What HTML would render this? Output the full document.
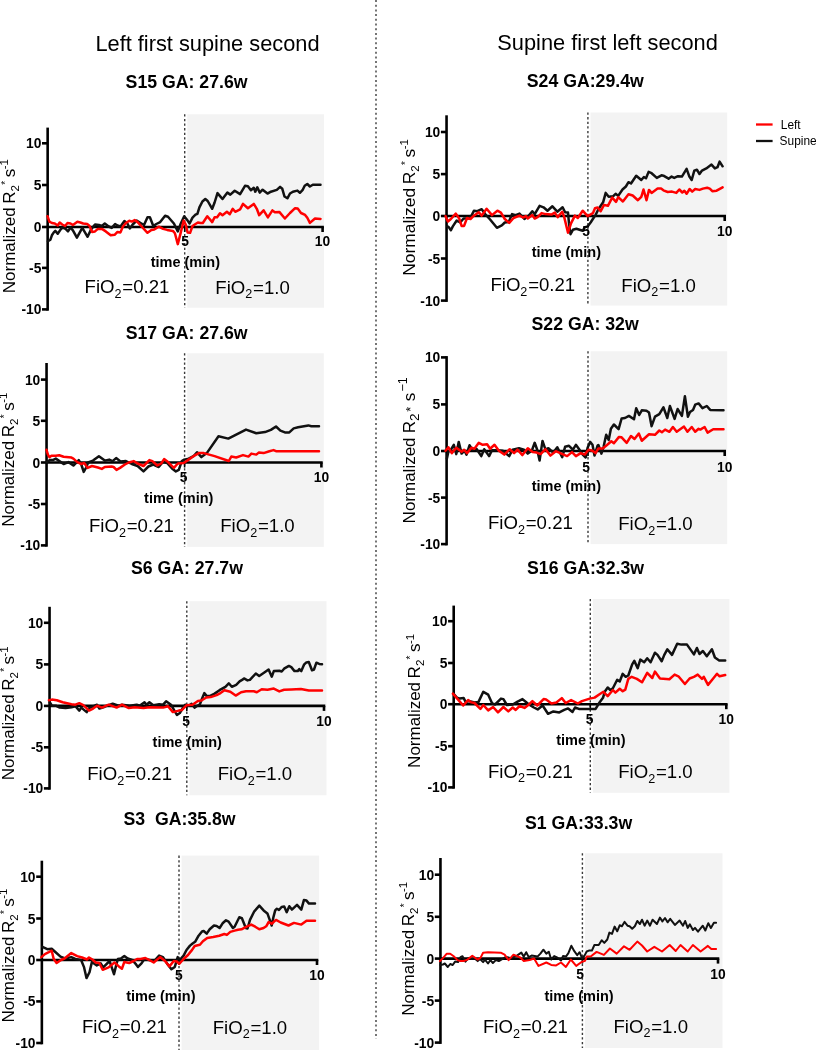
<!DOCTYPE html>
<html><head><meta charset="utf-8"><style>
html,body{margin:0;padding:0;background:#fff;}
body{width:816px;height:1050px;overflow:hidden;}
svg{display:block;font-family:"Liberation Sans", sans-serif;filter:blur(0.3px);}
</style></head><body>
<svg width="816" height="1050" viewBox="0 0 816 1050" fill="#000">
<line x1="376" y1="0" x2="376" y2="1039" stroke="#666" stroke-width="1.8" stroke-dasharray="2 2.7"/>
<text x="95.4" y="50.9" font-size="21.8">Left first supine second</text>
<text x="497.3" y="50.3" font-size="21.8">Supine first left second</text>
<rect x="187.29999999999998" y="114.3" width="136.7" height="193.4" fill="#f3f3f3"/>
<line x1="184.7" y1="114.3" x2="184.7" y2="307.7" stroke="#3a3a3a" stroke-width="1.4" stroke-dasharray="2.3 2.3"/>
<line x1="47.65" y1="127.6" x2="47.65" y2="310.7" stroke="#000" stroke-width="2.6"/>
<line x1="42.0" y1="143.3" x2="47.65" y2="143.3" stroke="#000" stroke-width="2.6"/>
<line x1="42.0" y1="185" x2="47.65" y2="185" stroke="#000" stroke-width="2.6"/>
<line x1="42.0" y1="227" x2="47.65" y2="227" stroke="#000" stroke-width="2.6"/>
<line x1="42.0" y1="267.9" x2="47.65" y2="267.9" stroke="#000" stroke-width="2.6"/>
<line x1="42.0" y1="309.4" x2="47.65" y2="309.4" stroke="#000" stroke-width="2.6"/>
<line x1="47.65" y1="227" x2="323.9" y2="227" stroke="#000" stroke-width="2.6"/>
<line x1="322.6" y1="227" x2="322.6" y2="232" stroke="#000" stroke-width="2.6"/>
<line x1="184.7" y1="227" x2="184.7" y2="232" stroke="#000" stroke-width="1.6"/>
<polyline points="47.9,241.2 50.4,239.7 51.9,235.3 53.8,232.4 55.3,230.9 57.7,233.8 60.7,229.4 62.6,227.5 65.6,228.9 68.0,231.4 70.5,227.5 72.9,230.4 76.9,237.7 82.3,227.9 87.6,236.8 91.1,229.4 95.0,224.5 98.9,225.0 101.9,226.0 104.8,223.5 108.7,226.5 111.7,227.9 115.1,224.0 117.5,225.5 120.5,226.5 124.4,221.1 127.4,223.5 129.8,228.4 132.7,224.5 136.7,220.6 140.6,223.0 144.0,225.0 147.5,217.2 149.9,217.2 153.3,226.0 156.3,224.0 160.2,222.1 165.1,215.7 168.0,216.7 173.9,223.5 177.8,231.4 180.8,223.5 184.2,216.2 187.6,220.6 189.6,223.5 192.5,217.6 195.5,214.7 197.4,213.8 199.4,207.4 202.4,201.5 205.3,199.0 207.7,201.0 212.2,208.8 214.6,202.5 217.5,193.1 220.0,196.1 222.5,199.0 227.4,192.6 230.3,194.6 234.7,190.7 240.1,194.1 245.0,185.8 247.9,186.3 250.9,190.2 253.8,187.7 255.3,191.7 257.3,187.3 259.7,192.6 262.6,189.7 267.5,193.6 270.9,191.7 276.8,189.9 280.1,186.9 282.3,188.8 284.5,196.5 287.4,198.3 290.0,193.5 292.9,191.7 297.4,190.6 299.9,192.8 302.5,190.2 304.7,185.8 307.3,184.0 309.9,186.5 312.8,184.7 320.5,184.7" fill="none" stroke="#111" stroke-width="2.5" stroke-linejoin="round" stroke-linecap="round"/>
<polyline points="47.5,216.2 49.4,221.6 51.9,223.0 54.8,223.5 57.7,225.5 59.7,222.5 62.2,224.5 65.1,226.0 67.5,223.0 70.5,223.5 72.9,225.0 77.4,221.8 80.3,222.5 83.2,223.5 87.2,224.0 89.6,226.0 92.1,231.9 95.0,231.4 97.9,228.9 101.9,228.9 105.8,231.4 110.7,235.3 114.6,234.8 117.5,231.9 120.5,232.4 122.9,226.5 125.9,223.0 129.3,220.8 131.8,221.6 134.7,220.1 137.6,222.1 141.6,226.5 147.5,232.8 151.4,229.9 154.3,229.4 158.7,226.7 163.1,228.9 167.1,229.9 172.9,230.9 174.9,233.3 177.8,244.1 180.8,232.4 183.7,220.6 185.7,224.5 187.6,232.4 190.1,232.8 192.5,226.0 195.5,224.0 197.9,222.5 200.4,223.0 202.8,223.0 207.3,216.2 212.2,222.1 214.6,217.2 217.1,217.2 220.0,213.2 222.5,215.2 226.9,211.8 229.8,214.2 232.7,208.8 235.2,211.8 240.1,209.3 243.0,203.9 247.9,208.3 253.8,203.9 256.8,208.8 259.2,215.2 263.6,210.3 267.9,217.4 272.4,210.4 274.9,212.3 279.3,211.9 284.9,218.5 290.0,213.0 295.1,208.2 297.7,208.6 301.0,213.0 305.1,214.9 307.3,217.8 309.9,222.9 315.0,218.5 320.5,218.9" fill="none" stroke="#ff0000" stroke-width="2.5" stroke-linejoin="round" stroke-linecap="round"/>
<text x="41.35" y="148.3" text-anchor="end" font-weight="bold" font-size="13.8">10</text>
<text x="41.35" y="190.0" text-anchor="end" font-weight="bold" font-size="13.8">5</text>
<text x="41.35" y="232.0" text-anchor="end" font-weight="bold" font-size="13.8">0</text>
<text x="41.35" y="272.9" text-anchor="end" font-weight="bold" font-size="13.8">-5</text>
<text x="41.35" y="314.4" text-anchor="end" font-weight="bold" font-size="13.8">-10</text>
<text x="185.1" y="246.2" text-anchor="middle" font-weight="bold" font-size="13.8">5</text>
<text x="322.4" y="246.2" text-anchor="middle" font-weight="bold" font-size="13.8">10</text>
<text x="150.7" y="266.6" font-weight="bold" font-size="14.5">time (min)</text>
<text x="84.6" y="293.3" font-size="18.6">FiO<tspan font-size="12.6" dy="4.8">2</tspan><tspan dx="0.8" dy="-4.8">=0.21</tspan></text>
<text x="215.3" y="293.5" font-size="18.6">FiO<tspan font-size="12.6" dy="4.8">2</tspan><tspan dx="0.8" dy="-4.8">=1.0</tspan></text>
<text x="125.6" y="87.6" font-weight="bold" font-size="17.7" xml:space="preserve">S15 GA: 27.6w</text>
<text transform="translate(14.6,293.2) rotate(-90)" font-size="17.0" xml:space="preserve">Normalized<tspan dx="-1.2"> R</tspan><tspan font-size="11.5" dy="4">2</tspan><tspan font-size="10" dy="-10" dx="0.3">*</tspan><tspan dy="6" dx="-1.2"> s</tspan><tspan font-size="11.5" dy="-6.5" dx="-0.6">-1</tspan></text>
<rect x="187.2" y="353.3" width="136.6" height="193.6" fill="#f3f3f3"/>
<line x1="184.6" y1="353.3" x2="184.6" y2="546.9" stroke="#3a3a3a" stroke-width="1.4" stroke-dasharray="2.3 2.3"/>
<line x1="46.55" y1="363" x2="46.55" y2="546.7" stroke="#000" stroke-width="2.6"/>
<line x1="40.9" y1="379.6" x2="46.55" y2="379.6" stroke="#000" stroke-width="2.6"/>
<line x1="40.9" y1="420.8" x2="46.55" y2="420.8" stroke="#000" stroke-width="2.6"/>
<line x1="40.9" y1="462.5" x2="46.55" y2="462.5" stroke="#000" stroke-width="2.6"/>
<line x1="40.9" y1="504" x2="46.55" y2="504" stroke="#000" stroke-width="2.6"/>
<line x1="40.9" y1="545.4" x2="46.55" y2="545.4" stroke="#000" stroke-width="2.6"/>
<line x1="46.55" y1="462.5" x2="322.7" y2="462.5" stroke="#000" stroke-width="2.6"/>
<line x1="321.4" y1="462.5" x2="321.4" y2="467.5" stroke="#000" stroke-width="2.6"/>
<line x1="184.6" y1="462.5" x2="184.6" y2="467.5" stroke="#000" stroke-width="1.6"/>
<polyline points="46.5,462.1 49.9,460.1 52.8,460.1 55.8,458.6 58.7,460.6 63.6,464.0 68.5,462.1 73.4,465.5 78.8,460.1 81.3,464.5 83.7,471.9 86.2,467.5 88.1,462.5 93.0,460.6 98.9,456.2 104.8,460.6 109.2,459.6 112.6,461.1 116.1,458.1 120.5,461.6 125.9,461.1 131.8,464.0 137.6,466.0 143.5,471.4 148.4,466.5 153.3,464.5 158.7,467.0 163.1,461.6 167.1,463.0 172.0,468.4 175.9,471.4 178.8,469.9 181.8,461.1 184.2,459.6 188.6,458.6 193.5,456.2 197.0,452.2 201.4,457.1 206.8,453.1 218.5,436.3 228.3,438.6 246.0,429.6 256.3,433.3 265.0,432.1 270.9,429.9 276.0,426.5 280.4,430.6 284.9,432.4 289.3,432.4 293.7,428.4 298.1,427.3 308.4,425.4 311.3,426.2 319.0,426.2" fill="none" stroke="#111" stroke-width="2.5" stroke-linejoin="round" stroke-linecap="round"/>
<polyline points="46.5,449.8 47.9,454.7 49.4,457.2 51.4,455.7 55.8,455.7 59.2,455.2 63.6,456.7 71.5,457.6 73.4,458.6 77.3,462.1 81.3,464.0 84.2,463.0 87.6,467.9 92.0,466.0 97.9,467.5 101.8,468.9 104.8,467.0 111.6,466.5 113.6,467.0 116.5,469.9 120.0,467.9 124.9,464.5 128.8,462.5 133.7,461.1 137.6,463.5 143.5,466.0 149.4,460.1 152.4,461.1 157.3,465.5 161.2,463.5 164.1,459.1 168.0,462.1 173.9,467.9 177.8,463.5 183.7,463.0 188.6,459.6 193.5,456.2 198.9,453.1 203.8,453.1 214.6,456.1 228.8,461.0 231.3,456.6 236.2,457.5 243.0,455.1 248.4,456.6 251.4,453.6 256.3,454.6 258.7,452.6 263.6,453.1 269.4,451.2 273.5,450.1 276.0,451.2 319.0,451.2" fill="none" stroke="#ff0000" stroke-width="2.5" stroke-linejoin="round" stroke-linecap="round"/>
<text x="40.25" y="384.6" text-anchor="end" font-weight="bold" font-size="13.8">10</text>
<text x="40.25" y="425.8" text-anchor="end" font-weight="bold" font-size="13.8">5</text>
<text x="40.25" y="467.5" text-anchor="end" font-weight="bold" font-size="13.8">0</text>
<text x="40.25" y="509.0" text-anchor="end" font-weight="bold" font-size="13.8">-5</text>
<text x="40.25" y="550.4" text-anchor="end" font-weight="bold" font-size="13.8">-10</text>
<text x="183.6" y="482.3" text-anchor="middle" font-weight="bold" font-size="13.8">5</text>
<text x="321.4" y="482.3" text-anchor="middle" font-weight="bold" font-size="13.8">10</text>
<text x="144.1" y="502.8" font-weight="bold" font-size="14.5">time (min)</text>
<text x="89.0" y="532.2" font-size="18.6">FiO<tspan font-size="12.6" dy="4.8">2</tspan><tspan dx="0.8" dy="-4.8">=0.21</tspan></text>
<text x="220.2" y="532.2" font-size="18.6">FiO<tspan font-size="12.6" dy="4.8">2</tspan><tspan dx="0.8" dy="-4.8">=1.0</tspan></text>
<text x="125.7" y="339.4" font-weight="bold" font-size="17.7" xml:space="preserve">S17 GA: 27.6w</text>
<text transform="translate(13.6,526.7) rotate(-90)" font-size="17.0" xml:space="preserve">Normalized<tspan dx="-1.2"> R</tspan><tspan font-size="11.5" dy="4">2</tspan><tspan font-size="10" dy="-10" dx="0.3">*</tspan><tspan dy="6" dx="-1.2"> s</tspan><tspan font-size="11.5" dy="-6.5" dx="-0.6">-1</tspan></text>
<rect x="189.4" y="601.2" width="137.1" height="194.1" fill="#f3f3f3"/>
<line x1="186.8" y1="601.2" x2="186.8" y2="795.3" stroke="#3a3a3a" stroke-width="1.4" stroke-dasharray="2.3 2.3"/>
<line x1="49.55" y1="606.8" x2="49.55" y2="789.7" stroke="#000" stroke-width="2.6"/>
<line x1="43.9" y1="622.8" x2="49.55" y2="622.8" stroke="#000" stroke-width="2.6"/>
<line x1="43.9" y1="664.4" x2="49.55" y2="664.4" stroke="#000" stroke-width="2.6"/>
<line x1="43.9" y1="705.9" x2="49.55" y2="705.9" stroke="#000" stroke-width="2.6"/>
<line x1="43.9" y1="747.3" x2="49.55" y2="747.3" stroke="#000" stroke-width="2.6"/>
<line x1="43.9" y1="788.4" x2="49.55" y2="788.4" stroke="#000" stroke-width="2.6"/>
<line x1="49.55" y1="705.9" x2="325.3" y2="705.9" stroke="#000" stroke-width="2.6"/>
<line x1="324" y1="705.9" x2="324" y2="710.9" stroke="#000" stroke-width="2.6"/>
<line x1="186.8" y1="705.9" x2="186.8" y2="710.9" stroke="#000" stroke-width="1.6"/>
<polyline points="49.9,702.3 51.9,705.7 55.8,705.7 59.7,707.6 65.6,708.1 71.5,707.2 75.4,706.2 79.3,710.6 81.3,707.6 86.7,712.1 89.1,708.1 97.0,704.7 99.4,708.6 104.8,706.7 112.7,703.7 118.5,705.7 122.0,704.7 129.8,705.7 136.7,704.7 139.6,705.7 144.5,702.3 146.5,704.7 149.4,702.3 153.3,705.2 159.2,704.2 163.1,704.7 166.1,701.3 171.0,704.7 176.9,715.0 179.8,713.0 182.7,708.1 185.2,704.7 188.6,705.7 191.6,703.7 194.5,707.6 197.0,706.0 199.9,704.4 201.9,699.0 204.3,693.1 206.8,696.1 209.7,696.1 214.6,693.6 219.5,690.2 225.4,686.8 228.8,683.3 231.8,686.8 236.2,684.8 239.6,681.4 242.1,679.9 244.0,678.4 247.5,680.4 249.9,679.9 255.8,673.5 259.2,676.0 263.6,673.0 268.6,669.5 271.8,676.7 273.8,671.1 279.3,670.7 281.7,671.5 284.1,668.7 288.9,665.9 291.3,667.1 294.5,671.1 297.7,671.1 299.3,669.1 301.3,671.1 304.0,664.7 306.4,662.4 308.8,662.0 312.0,670.3 314.0,669.5 316.4,662.7 319.2,663.9 322.0,664.3" fill="none" stroke="#111" stroke-width="2.5" stroke-linejoin="round" stroke-linecap="round"/>
<polyline points="48.9,700.3 51.9,699.6 56.8,700.3 62.7,702.3 71.5,704.2 75.4,704.7 79.3,703.2 83.3,705.2 89.1,710.6 93.1,708.6 97.0,705.7 101.9,707.6 108.7,704.7 116.6,707.6 122.0,704.7 128.8,708.1 134.7,707.2 143.5,708.1 149.4,707.2 163.1,707.6 168.0,706.2 172.9,712.1 178.8,710.6 181.8,710.1 186.7,705.2 192.5,704.7 197.9,701.0 201.4,700.5 206.3,697.5 210.7,697.1 216.6,695.1 220.5,693.1 224.4,690.2 230.3,691.7 235.7,695.6 241.1,692.2 246.0,691.2 253.8,691.2 256.8,692.2 261.7,689.2 267.5,689.7 273.8,688.6 279.3,691.4 284.1,689.8 291.3,689.4 300.9,689.0 308.8,690.6 322.0,690.6" fill="none" stroke="#ff0000" stroke-width="2.5" stroke-linejoin="round" stroke-linecap="round"/>
<text x="43.25" y="627.8" text-anchor="end" font-weight="bold" font-size="13.8">10</text>
<text x="43.25" y="669.4" text-anchor="end" font-weight="bold" font-size="13.8">5</text>
<text x="43.25" y="710.9" text-anchor="end" font-weight="bold" font-size="13.8">0</text>
<text x="43.25" y="752.3" text-anchor="end" font-weight="bold" font-size="13.8">-5</text>
<text x="43.25" y="793.4" text-anchor="end" font-weight="bold" font-size="13.8">-10</text>
<text x="186.2" y="725.5" text-anchor="middle" font-weight="bold" font-size="13.8">5</text>
<text x="324" y="725.5" text-anchor="middle" font-weight="bold" font-size="13.8">10</text>
<text x="152.6" y="746.8" font-weight="bold" font-size="14.5">time (min)</text>
<text x="87.2" y="780.4" font-size="18.6">FiO<tspan font-size="12.6" dy="4.8">2</tspan><tspan dx="0.8" dy="-4.8">=0.21</tspan></text>
<text x="217.7" y="780" font-size="18.6">FiO<tspan font-size="12.6" dy="4.8">2</tspan><tspan dx="0.8" dy="-4.8">=1.0</tspan></text>
<text x="130.9" y="574.4" font-weight="bold" font-size="17.7" xml:space="preserve">S6 GA: 27.7w</text>
<text transform="translate(14.1,780.3) rotate(-90)" font-size="17.0" xml:space="preserve">Normalized<tspan dx="-1.2"> R</tspan><tspan font-size="11.5" dy="4">2</tspan><tspan font-size="10" dy="-10" dx="0.3">*</tspan><tspan dy="6" dx="-1.2"> s</tspan><tspan font-size="11.5" dy="-6.5" dx="-0.6">-1</tspan></text>
<rect x="181.6" y="855.6" width="137.5" height="194.4" fill="#f3f3f3"/>
<line x1="179" y1="855.6" x2="179" y2="1050" stroke="#3a3a3a" stroke-width="1.4" stroke-dasharray="2.3 2.3"/>
<line x1="41.85" y1="860.7" x2="41.85" y2="1044.3" stroke="#000" stroke-width="2.6"/>
<line x1="36.2" y1="876.7" x2="41.85" y2="876.7" stroke="#000" stroke-width="2.6"/>
<line x1="36.2" y1="918.5" x2="41.85" y2="918.5" stroke="#000" stroke-width="2.6"/>
<line x1="36.2" y1="960" x2="41.85" y2="960" stroke="#000" stroke-width="2.6"/>
<line x1="36.2" y1="1001.4" x2="41.85" y2="1001.4" stroke="#000" stroke-width="2.6"/>
<line x1="36.2" y1="1043" x2="41.85" y2="1043" stroke="#000" stroke-width="2.6"/>
<line x1="41.85" y1="960" x2="318.3" y2="960" stroke="#000" stroke-width="2.6"/>
<line x1="317" y1="960" x2="317" y2="965" stroke="#000" stroke-width="2.6"/>
<line x1="179" y1="960" x2="179" y2="965" stroke="#000" stroke-width="1.6"/>
<polyline points="42.4,946.8 47.3,949.2 51.7,948.7 55.6,952.2 60.5,956.6 65.0,958.5 71.3,957.1 75.3,959.0 81.1,960.0 84.1,967.4 86.5,978.1 89.5,972.3 91.9,962.0 96.8,965.4 100.7,963.4 103.2,967.4 109.6,961.0 114.0,974.2 116.4,964.4 117.9,959.0 120.9,958.5 124.3,956.1 127.7,958.5 132.2,960.0 136.1,964.4 138.0,966.9 141.5,963.4 144.4,959.0 154.2,961.0 159.1,955.6 163.0,957.1 167.0,963.4 171.4,969.3 174.8,966.9 177.7,957.1 179.7,960.0 183.6,955.6 186.5,950.0 190.0,945.6 192.6,943.5 195.1,941.8 198.6,935.7 202.0,931.5 203.7,931.0 206.7,933.6 209.7,929.3 214.0,925.5 216.6,925.9 219.6,928.0 222.6,923.3 226.0,920.3 228.6,921.6 232.9,928.0 234.6,926.7 239.3,917.3 241.9,918.2 245.8,928.0 247.5,928.5 250.0,919.9 254.3,911.3 259.3,905.7 263.6,910.4 267.4,913.4 270.0,920.7 271.7,925.5 273.4,917.3 275.2,910.4 276.9,908.7 279.0,910.0 281.6,907.0 284.2,906.6 286.7,912.2 289.3,906.2 291.9,909.6 297.0,904.9 301.3,909.6 303.9,900.1 306.5,900.6 309.0,903.6 315.0,903.6" fill="none" stroke="#111" stroke-width="2.5" stroke-linejoin="round" stroke-linecap="round"/>
<polyline points="41.4,957.1 44.9,954.1 48.8,952.2 51.7,950.7 53.7,959.0 56.6,963.0 61.0,960.0 64.5,958.5 71.3,953.1 77.2,956.1 82.1,957.5 87.0,959.5 89.0,957.5 92.4,959.5 95.8,962.5 99.3,963.0 102.7,969.8 108.6,967.4 114.5,962.5 118.9,966.4 121.9,968.8 124.3,962.0 129.2,963.0 133.6,961.0 137.1,959.0 140.5,959.0 145.4,958.0 149.3,960.0 153.7,962.5 160.1,957.1 165.0,961.0 169.4,966.4 173.8,961.0 176.8,961.5 179.2,963.9 183.6,959.0 188.0,955.0 192.1,949.9 194.7,946.0 197.7,945.2 199.9,944.8 202.9,941.3 207.2,937.9 213.2,937.0 219.2,935.7 224.3,934.0 226.9,934.9 230.3,931.9 234.6,930.6 238.0,929.7 241.5,929.3 246.6,926.7 251.3,924.6 255.2,926.7 259.3,929.3 263.6,928.0 266.2,926.3 268.7,922.0 271.7,923.7 276.0,919.9 280.7,922.5 288.5,925.5 294.0,922.9 301.3,924.6 306.5,920.7 315.0,920.7" fill="none" stroke="#ff0000" stroke-width="2.5" stroke-linejoin="round" stroke-linecap="round"/>
<text x="35.55" y="881.7" text-anchor="end" font-weight="bold" font-size="13.8">10</text>
<text x="35.55" y="923.5" text-anchor="end" font-weight="bold" font-size="13.8">5</text>
<text x="35.55" y="965.0" text-anchor="end" font-weight="bold" font-size="13.8">0</text>
<text x="35.55" y="1006.4" text-anchor="end" font-weight="bold" font-size="13.8">-5</text>
<text x="35.55" y="1048.0" text-anchor="end" font-weight="bold" font-size="13.8">-10</text>
<text x="178.8" y="979.5" text-anchor="middle" font-weight="bold" font-size="13.8">5</text>
<text x="317" y="979.5" text-anchor="middle" font-weight="bold" font-size="13.8">10</text>
<text x="126.2" y="1000.6" font-weight="bold" font-size="14.5">time (min)</text>
<text x="82.0" y="1032.7" font-size="18.6">FiO<tspan font-size="12.6" dy="4.8">2</tspan><tspan dx="0.8" dy="-4.8">=0.21</tspan></text>
<text x="212.7" y="1033.5" font-size="18.6">FiO<tspan font-size="12.6" dy="4.8">2</tspan><tspan dx="0.8" dy="-4.8">=1.0</tspan></text>
<text x="123.5" y="824.8" font-weight="bold" font-size="17.7" xml:space="preserve">S3  GA:35.8w</text>
<text transform="translate(13.6,1022.6) rotate(-90)" font-size="17.0" xml:space="preserve">Normalized<tspan dx="-1.2"> R</tspan><tspan font-size="11.5" dy="4">2</tspan><tspan font-size="10" dy="-10" dx="0.3">*</tspan><tspan dy="6" dx="-1.2"> s</tspan><tspan font-size="11.5" dy="-6.5" dx="-0.6">-1</tspan></text>
<rect x="590.5" y="112.5" width="136.7" height="193.1" fill="#f3f3f3"/>
<line x1="587.9" y1="112.5" x2="587.9" y2="305.6" stroke="#3a3a3a" stroke-width="1.4" stroke-dasharray="2.3 2.3"/>
<line x1="446.55" y1="115.3" x2="446.55" y2="301.9" stroke="#000" stroke-width="2.6"/>
<line x1="440.9" y1="132" x2="446.55" y2="132" stroke="#000" stroke-width="2.6"/>
<line x1="440.9" y1="174.1" x2="446.55" y2="174.1" stroke="#000" stroke-width="2.6"/>
<line x1="440.9" y1="216" x2="446.55" y2="216" stroke="#000" stroke-width="2.6"/>
<line x1="440.9" y1="258.5" x2="446.55" y2="258.5" stroke="#000" stroke-width="2.6"/>
<line x1="440.9" y1="300.6" x2="446.55" y2="300.6" stroke="#000" stroke-width="2.6"/>
<line x1="446.55" y1="216" x2="726.0" y2="216" stroke="#000" stroke-width="2.6"/>
<line x1="724.7" y1="216" x2="724.7" y2="221" stroke="#000" stroke-width="2.6"/>
<line x1="587.9" y1="216" x2="587.9" y2="221" stroke="#000" stroke-width="1.6"/>
<polyline points="447.4,226.4 448.9,227.4 450.9,230.3 452.8,226.4 456.7,220.5 460.2,222.5 463.6,218.5 468.0,218.5 471.5,215.6 473.9,210.7 477.3,211.2 481.7,209.2 485.2,214.1 490.1,219.5 496.9,227.8 501.8,225.4 504.8,222.5 508.7,222.0 512.1,214.1 515.6,215.1 519.5,213.6 524.4,219.0 528.8,215.6 532.3,211.2 534.7,214.1 539.6,205.8 543.5,207.3 547.5,210.7 552.4,206.3 557.3,211.7 562.6,207.3 565.1,212.2 568.0,212.6 569.0,223.4 570.5,234.2 572.9,229.8 576.4,228.8 582.7,230.8 584.7,227.4 587.6,226.4 590.6,222.5 593.5,218.0 595.5,215.1 598.4,209.2 603.1,202.3 605.7,192.9 608.7,196.8 613.0,196.3 615.6,193.8 618.2,195.9 622.5,189.5 625.9,186.5 628.5,182.2 631.0,183.5 636.2,175.7 641.3,180.0 643.9,177.0 646.0,178.3 648.6,171.9 651.6,173.2 656.8,177.9 661.5,175.3 663.4,175.7 668.6,178.7 671.6,176.6 674.2,177.9 678.0,176.2 681.9,176.6 686.6,168.9 689.2,176.2 691.7,180.0 694.3,170.6 696.9,169.7 699.5,174.0 702.0,170.6 706.3,168.4 711.5,164.6 714.9,168.4 717.5,167.2 719.6,161.6 722.6,166.3" fill="none" stroke="#111" stroke-width="2.5" stroke-linejoin="round" stroke-linecap="round"/>
<polyline points="445.5,216.1 447.9,221.5 450.9,219.0 455.8,213.6 459.2,218.5 461.6,225.9 464.1,225.9 467.0,218.0 470.5,219.0 473.4,216.1 478.8,212.2 481.7,215.6 486.6,208.7 492.0,215.1 497.4,210.7 500.9,212.6 504.8,219.0 509.2,222.9 513.6,218.0 519.5,215.6 522.9,217.5 525.9,216.1 527.8,218.5 532.3,215.1 534.7,218.5 537.6,217.1 541.6,213.1 545.5,214.1 551.4,214.6 554.8,212.6 557.7,217.1 562.2,211.7 564.1,216.6 568.0,232.7 571.0,223.4 574.9,215.6 577.8,218.0 582.7,210.7 587.6,216.1 593.0,213.1 595.0,208.3 597.6,207.5 600.6,211.3 604.0,204.9 607.9,205.8 612.2,197.6 616.0,201.9 618.2,197.2 622.9,201.5 628.5,194.2 632.7,195.5 637.9,200.2 641.3,196.8 643.5,189.5 646.5,200.2 649.0,189.9 651.6,192.9 657.6,188.6 661.1,188.6 663.4,190.3 667.7,192.0 672.0,191.6 676.3,192.9 679.3,189.5 682.3,192.5 684.4,190.7 686.6,193.8 689.6,189.0 692.2,191.6 695.2,189.0 699.5,189.9 702.9,188.6 707.2,187.7 709.8,188.6 712.3,191.2 716.6,190.7 722.6,187.3" fill="none" stroke="#ff0000" stroke-width="2.5" stroke-linejoin="round" stroke-linecap="round"/>
<text x="440.25" y="137.0" text-anchor="end" font-weight="bold" font-size="13.8">10</text>
<text x="440.25" y="179.1" text-anchor="end" font-weight="bold" font-size="13.8">5</text>
<text x="440.25" y="221.0" text-anchor="end" font-weight="bold" font-size="13.8">0</text>
<text x="440.25" y="263.5" text-anchor="end" font-weight="bold" font-size="13.8">-5</text>
<text x="440.25" y="305.6" text-anchor="end" font-weight="bold" font-size="13.8">-10</text>
<text x="586" y="236" text-anchor="middle" font-weight="bold" font-size="13.8">5</text>
<text x="724.7" y="236" text-anchor="middle" font-weight="bold" font-size="13.8">10</text>
<text x="531.7" y="257" font-weight="bold" font-size="14.5">time (min)</text>
<text x="490.4" y="290.9" font-size="18.6">FiO<tspan font-size="12.6" dy="4.8">2</tspan><tspan dx="0.8" dy="-4.8">=0.21</tspan></text>
<text x="621.3" y="291.5" font-size="18.6">FiO<tspan font-size="12.6" dy="4.8">2</tspan><tspan dx="0.8" dy="-4.8">=1.0</tspan></text>
<text x="526.8" y="86.9" font-weight="bold" font-size="17.7" xml:space="preserve">S24 GA:29.4w</text>
<text transform="translate(414.6,275.8) rotate(-90)" font-size="17.4" xml:space="preserve">Normalized<tspan dx="-1.2"> R</tspan><tspan font-size="11.5" dy="4">2</tspan><tspan font-size="10" dy="-10" dx="0.3">*</tspan><tspan dy="6" dx="-1.2"> s</tspan><tspan font-size="11.5" dy="-6.5" dx="-0.6">-1</tspan></text>
<rect x="590.6" y="351.3" width="136.6" height="192.8" fill="#f3f3f3"/>
<line x1="588" y1="351.3" x2="588" y2="544.1" stroke="#3a3a3a" stroke-width="1.4" stroke-dasharray="2.3 2.3"/>
<line x1="446.6" y1="356.1" x2="446.6" y2="545.4" stroke="#000" stroke-width="2.6"/>
<line x1="441.0" y1="357.4" x2="446.6" y2="357.4" stroke="#000" stroke-width="2.6"/>
<line x1="441.0" y1="404.4" x2="446.6" y2="404.4" stroke="#000" stroke-width="2.6"/>
<line x1="441.0" y1="451" x2="446.6" y2="451" stroke="#000" stroke-width="2.6"/>
<line x1="441.0" y1="497.6" x2="446.6" y2="497.6" stroke="#000" stroke-width="2.6"/>
<line x1="441.0" y1="544.1" x2="446.6" y2="544.1" stroke="#000" stroke-width="2.6"/>
<line x1="446.6" y1="451" x2="726.0" y2="451" stroke="#000" stroke-width="2.6"/>
<line x1="724.7" y1="451" x2="724.7" y2="456" stroke="#000" stroke-width="2.6"/>
<line x1="588" y1="451" x2="588" y2="456" stroke="#000" stroke-width="1.6"/>
<polyline points="446.9,458.5 448.4,451.7 450.9,449.7 453.8,444.8 456.3,454.1 458.7,441.9 461.6,453.6 464.6,450.7 466.5,454.6 469.5,445.3 472.4,449.7 476.4,448.7 481.3,456.1 484.2,449.2 489.1,456.1 492.0,450.2 496.9,450.2 502.8,450.7 509.2,456.1 512.6,449.7 519.0,448.2 523.9,449.7 527.8,453.6 531.8,450.7 534.7,442.8 537.2,449.7 539.6,460.5 542.5,440.9 545.5,449.7 548.4,448.2 553.3,452.6 557.3,447.3 562.2,457.1 565.1,446.8 569.0,445.8 572.9,449.7 575.9,444.8 578.8,448.7 582.7,454.6 585.7,457.5 587.6,447.7 590.1,441.9 592.5,444.8 594.5,455.6 597.5,445.8 598.4,445.0 601.4,453.6 603.6,446.8 606.2,434.8 608.7,439.9 610.9,428.8 613.9,424.5 618.6,429.2 621.6,418.5 625.0,418.0 628.9,415.9 634.0,419.3 636.2,408.2 639.2,415.0 641.8,410.3 646.5,410.7 649.0,412.5 651.6,426.2 655.0,416.7 659.3,414.2 663.4,407.3 667.3,418.0 669.9,406.0 674.6,418.9 677.6,409.0 681.9,415.9 684.9,396.2 687.9,416.7 690.0,412.0 693.0,409.9 695.2,404.7 698.6,403.4 702.5,408.2 706.8,406.0 710.2,409.9 723.5,410.3" fill="none" stroke="#111" stroke-width="2.5" stroke-linejoin="round" stroke-linecap="round"/>
<polyline points="445.5,450.7 448.4,447.3 451.8,453.1 456.3,447.7 461.6,451.7 464.1,449.7 467.0,453.1 471.5,447.7 474.4,448.7 478.8,442.8 482.7,444.8 487.1,444.3 490.1,448.7 494.5,444.8 498.9,450.7 504.3,454.6 509.7,449.2 514.1,453.1 517.5,449.7 522.4,455.1 527.8,448.2 532.7,452.1 536.7,452.6 540.6,454.1 545.5,449.2 550.4,455.6 555.8,451.2 560.2,453.1 567.1,456.1 572.0,452.1 575.9,456.1 580.8,453.1 584.7,454.6 588.6,449.7 592.5,450.7 595.5,453.1 598.4,448.5 602.7,448.5 607.0,445.0 611.3,441.2 613.9,443.3 619.0,436.9 621.6,437.3 626.7,442.9 631.0,436.0 634.5,439.0 638.8,433.5 641.8,440.8 649.0,434.3 655.0,434.8 659.3,430.5 661.9,432.2 665.1,429.6 669.4,431.8 672.9,427.0 676.7,431.8 684.0,426.6 687.5,431.8 691.7,427.0 695.2,431.8 698.6,428.8 700.3,429.6 704.6,427.0 707.6,432.6 713.2,429.2 723.5,429.2" fill="none" stroke="#ff0000" stroke-width="2.5" stroke-linejoin="round" stroke-linecap="round"/>
<text x="440.30" y="362.4" text-anchor="end" font-weight="bold" font-size="13.8">10</text>
<text x="440.30" y="409.4" text-anchor="end" font-weight="bold" font-size="13.8">5</text>
<text x="440.30" y="456.0" text-anchor="end" font-weight="bold" font-size="13.8">0</text>
<text x="440.30" y="502.6" text-anchor="end" font-weight="bold" font-size="13.8">-5</text>
<text x="440.30" y="549.1" text-anchor="end" font-weight="bold" font-size="13.8">-10</text>
<text x="586" y="471.5" text-anchor="middle" font-weight="bold" font-size="13.8">5</text>
<text x="724.7" y="471.5" text-anchor="middle" font-weight="bold" font-size="13.8">10</text>
<text x="531.7" y="491.2" font-weight="bold" font-size="14.5">time (min)</text>
<text x="488.0" y="529.4" font-size="18.6">FiO<tspan font-size="12.6" dy="4.8">2</tspan><tspan dx="0.8" dy="-4.8">=0.21</tspan></text>
<text x="618.2" y="530" font-size="18.6">FiO<tspan font-size="12.6" dy="4.8">2</tspan><tspan dx="0.8" dy="-4.8">=1.0</tspan></text>
<text x="531.5" y="330.3" font-weight="bold" font-size="17.7" xml:space="preserve">S22 GA: 32w</text>
<text transform="translate(414.6,523.4) rotate(-90)" font-size="17" xml:space="preserve">Normalized<tspan dx="-0.5"> R</tspan><tspan font-size="13.5" dy="4">2</tspan><tspan font-size="13" dy="-4" dx="1.6">*</tspan><tspan dx="0.8"> s</tspan><tspan font-size="12.5" dy="-7.5" dx="1.2">&#8722;1</tspan></text>
<rect x="592.9" y="599" width="136.5" height="193.8" fill="#f3f3f3"/>
<line x1="590.3" y1="599" x2="590.3" y2="792.8" stroke="#3a3a3a" stroke-width="1.4" stroke-dasharray="2.3 2.3"/>
<line x1="453.7" y1="605.6" x2="453.7" y2="788.7" stroke="#000" stroke-width="2.6"/>
<line x1="448.1" y1="621.2" x2="453.7" y2="621.2" stroke="#000" stroke-width="2.6"/>
<line x1="448.1" y1="663" x2="453.7" y2="663" stroke="#000" stroke-width="2.6"/>
<line x1="448.1" y1="704.2" x2="453.7" y2="704.2" stroke="#000" stroke-width="2.6"/>
<line x1="448.1" y1="746.2" x2="453.7" y2="746.2" stroke="#000" stroke-width="2.6"/>
<line x1="448.1" y1="787.4" x2="453.7" y2="787.4" stroke="#000" stroke-width="2.6"/>
<line x1="453.7" y1="704.2" x2="727.6" y2="704.2" stroke="#000" stroke-width="2.6"/>
<line x1="726.3" y1="704.2" x2="726.3" y2="709.2" stroke="#000" stroke-width="2.6"/>
<line x1="590.3" y1="704.2" x2="590.3" y2="709.2" stroke="#000" stroke-width="1.6"/>
<polyline points="453.4,693.7 456.9,697.6 459.8,698.6 463.7,698.1 465.7,702.1 469.6,701.1 474.5,702.5 478.4,702.1 483.3,691.8 488.2,694.7 492.2,703.5 495.1,704.5 501.0,698.6 503.4,699.1 506.9,705.0 512.7,704.5 517.6,701.6 522.5,699.1 526.5,702.5 528.9,704.5 533.8,707.5 537.7,709.4 542.6,705.5 548.0,713.8 553.4,711.4 559.3,712.4 564.2,709.9 568.1,708.4 572.5,711.9 575.0,707.5 578.9,708.9 595.6,708.9 599.5,702.5 603.0,697.8 604.7,691.8 607.7,687.5 610.3,690.0 612.9,688.3 617.2,679.8 619.7,681.5 622.7,673.8 625.7,676.8 628.3,675.5 632.2,664.3 634.3,660.9 637.7,668.2 640.3,659.6 644.2,662.2 647.2,658.3 650.6,662.2 654.9,652.7 657.5,654.9 661.7,661.3 664.3,654.9 667.3,649.3 672.0,654.9 677.2,643.7 681.4,644.6 687.0,644.6 693.9,654.4 696.9,648.0 699.5,654.0 702.9,651.0 706.8,656.2 711.9,649.3 714.9,657.5 719.2,660.5 725.2,660.5" fill="none" stroke="#111" stroke-width="2.5" stroke-linejoin="round" stroke-linecap="round"/>
<polyline points="452.9,693.7 456.4,697.6 459.8,701.6 463.2,705.5 468.1,700.1 470.6,702.1 474.5,703.0 480.4,708.9 483.3,705.0 488.2,710.4 493.1,707.0 498.0,712.4 503.4,707.0 508.3,711.4 512.7,707.5 515.7,709.9 519.6,706.0 524.5,707.9 528.9,704.5 532.4,701.1 537.3,705.5 543.6,699.1 546.1,699.6 551.5,703.5 556.4,702.5 561.8,698.1 565.7,703.0 571.1,700.1 577.9,703.5 581.9,701.1 589.7,698.6 594.6,697.6 599.5,694.2 603.4,691.8 607.7,696.1 612.9,690.0 615.4,692.6 619.7,688.8 622.7,691.3 625.3,689.6 628.3,678.9 631.7,676.8 636.9,678.9 642.0,682.3 647.2,672.9 652.3,678.0 654.9,671.6 660.0,678.5 669.4,679.3 674.6,674.6 678.4,676.3 684.9,684.0 689.6,678.5 693.9,676.8 697.7,674.6 702.0,678.9 703.8,676.8 708.0,684.9 713.2,678.5 717.0,673.8 719.6,676.3 725.2,675.0" fill="none" stroke="#ff0000" stroke-width="2.5" stroke-linejoin="round" stroke-linecap="round"/>
<text x="447.40" y="626.2" text-anchor="end" font-weight="bold" font-size="13.8">10</text>
<text x="447.40" y="668.0" text-anchor="end" font-weight="bold" font-size="13.8">5</text>
<text x="447.40" y="709.2" text-anchor="end" font-weight="bold" font-size="13.8">0</text>
<text x="447.40" y="751.2" text-anchor="end" font-weight="bold" font-size="13.8">-5</text>
<text x="447.40" y="792.4" text-anchor="end" font-weight="bold" font-size="13.8">-10</text>
<text x="589.7" y="724" text-anchor="middle" font-weight="bold" font-size="13.8">5</text>
<text x="726.3" y="724" text-anchor="middle" font-weight="bold" font-size="13.8">10</text>
<text x="556.2" y="744.7" font-weight="bold" font-size="14.5">time (min)</text>
<text x="488.0" y="777.6" font-size="18.6">FiO<tspan font-size="12.6" dy="4.8">2</tspan><tspan dx="0.8" dy="-4.8">=0.21</tspan></text>
<text x="618.2" y="777.7" font-size="18.6">FiO<tspan font-size="12.6" dy="4.8">2</tspan><tspan dx="0.8" dy="-4.8">=1.0</tspan></text>
<text x="527" y="574.1" font-weight="bold" font-size="17.7" xml:space="preserve">S16 GA:32.3w</text>
<text transform="translate(420.3,767.9) rotate(-90)" font-size="17.0" xml:space="preserve">Normalized<tspan dx="-1.2"> R</tspan><tspan font-size="11.5" dy="4">2</tspan><tspan font-size="10" dy="-10" dx="0.3">*</tspan><tspan dy="6" dx="-1.2"> s</tspan><tspan font-size="11.5" dy="-6.5" dx="-0.6">-1</tspan></text>
<rect x="585.0" y="853.3" width="137.5" height="194.7" fill="#f3f3f3"/>
<line x1="582.4" y1="853.3" x2="582.4" y2="1048" stroke="#3a3a3a" stroke-width="1.4" stroke-dasharray="2.3 2.3"/>
<line x1="440.45" y1="858" x2="440.45" y2="1043.9" stroke="#000" stroke-width="2.6"/>
<line x1="434.8" y1="874.7" x2="440.45" y2="874.7" stroke="#000" stroke-width="2.6"/>
<line x1="434.8" y1="916.8" x2="440.45" y2="916.8" stroke="#000" stroke-width="2.6"/>
<line x1="434.8" y1="958.6" x2="440.45" y2="958.6" stroke="#000" stroke-width="2.6"/>
<line x1="434.8" y1="1000.6" x2="440.45" y2="1000.6" stroke="#000" stroke-width="2.6"/>
<line x1="434.8" y1="1042.6" x2="440.45" y2="1042.6" stroke="#000" stroke-width="2.6"/>
<line x1="440.45" y1="958.6" x2="719.3" y2="958.6" stroke="#000" stroke-width="2.6"/>
<line x1="718" y1="958.6" x2="718" y2="963.6" stroke="#000" stroke-width="2.6"/>
<line x1="582.4" y1="958.6" x2="582.4" y2="963.6" stroke="#000" stroke-width="1.6"/>
<polyline points="440.4,965.0 442.9,964.5 444.8,963.5 447.8,967.0 450.2,964.0 452.7,965.0 455.1,961.6 458.1,962.1 460.5,957.2 462.5,956.2 465.4,961.6 468.4,958.1 471.3,959.1 474.7,958.6 477.7,961.1 480.1,959.1 483.1,962.1 485.0,959.6 488.0,963.5 490.4,960.1 492.9,963.0 495.8,960.1 498.8,961.1 504.6,957.6 507.6,957.2 510.5,958.1 514.5,956.7 516.9,955.6 521.3,952.6 523.8,956.6 526.2,952.2 528.7,957.1 531.6,955.6 537.5,956.6 540.4,953.6 543.4,949.7 546.3,953.6 548.8,951.7 551.2,959.5 554.2,956.1 557.1,957.5 561.0,960.5 563.0,956.1 565.9,956.6 568.4,953.1 571.3,945.8 574.3,951.2 577.2,955.1 579.6,952.2 582.1,958.5 584.5,955.6 586.7,951.5 588.9,950.6 591.9,950.6 594.4,945.0 598.7,945.0 601.7,940.3 604.3,942.9 607.3,939.5 609.4,932.6 612.0,933.9 614.6,926.6 617.2,931.3 619.7,925.3 621.9,926.2 624.5,921.9 627.5,925.7 629.6,926.2 632.2,928.7 634.8,926.2 637.3,921.0 639.9,924.0 642.0,919.7 644.6,925.7 647.2,920.6 650.0,925.7 652.6,919.7 656.9,924.0 659.9,917.6 662.4,921.4 665.0,918.0 667.6,922.3 670.2,918.9 674.9,924.9 679.6,920.6 683.0,925.7 685.2,921.0 687.7,927.9 689.9,924.4 692.9,930.0 695.0,927.9 698.0,931.7 702.8,925.7 705.3,930.5 708.3,923.2 710.9,927.9 713.9,922.7 716.1,922.7" fill="none" stroke="#111" stroke-width="2.0" stroke-linejoin="round" stroke-linecap="round"/>
<polyline points="439.9,961.1 442.9,958.1 446.8,953.7 450.2,953.7 453.7,956.2 457.6,960.1 460.5,961.1 463.5,961.1 467.4,959.6 472.3,955.7 477.7,959.6 480.6,957.6 483.1,952.7 488.0,952.3 500.7,952.7 504.6,954.7 508.6,960.1 513.5,954.7 515.9,955.6 520.3,957.5 523.8,961.0 529.6,960.0 534.1,958.5 538.5,965.9 546.3,962.5 551.2,964.9 556.1,965.4 561.0,962.5 565.9,966.9 570.8,959.5 576.2,965.9 581.6,962.0 585.0,960.9 586.7,956.6 591.0,956.2 596.6,951.9 603.9,954.9 609.9,948.5 616.7,953.6 624.0,946.3 629.6,949.8 637.3,941.6 642.0,945.5 647.2,951.5 654.3,946.8 662.0,951.5 669.7,945.0 675.7,951.0 680.5,945.0 687.7,951.5 692.9,945.0 700.6,951.5 707.9,945.9 711.3,948.9 716.1,948.9" fill="none" stroke="#ff0000" stroke-width="2.0" stroke-linejoin="round" stroke-linecap="round"/>
<text x="434.15" y="879.7" text-anchor="end" font-weight="bold" font-size="13.8">10</text>
<text x="434.15" y="921.8" text-anchor="end" font-weight="bold" font-size="13.8">5</text>
<text x="434.15" y="963.6" text-anchor="end" font-weight="bold" font-size="13.8">0</text>
<text x="434.15" y="1005.6" text-anchor="end" font-weight="bold" font-size="13.8">-5</text>
<text x="434.15" y="1047.6" text-anchor="end" font-weight="bold" font-size="13.8">-10</text>
<text x="580" y="978.7" text-anchor="middle" font-weight="bold" font-size="13.8">5</text>
<text x="718" y="978.7" text-anchor="middle" font-weight="bold" font-size="13.8">10</text>
<text x="544.4" y="1000.6" font-weight="bold" font-size="14.5">time (min)</text>
<text x="483.0" y="1033" font-size="18.6">FiO<tspan font-size="12.6" dy="4.8">2</tspan><tspan dx="0.8" dy="-4.8">=0.21</tspan></text>
<text x="613.5" y="1032.5" font-size="18.6">FiO<tspan font-size="12.6" dy="4.8">2</tspan><tspan dx="0.8" dy="-4.8">=1.0</tspan></text>
<text x="525" y="829.1" font-weight="bold" font-size="17.7" xml:space="preserve">S1 GA:33.3w</text>
<text transform="translate(413.5,1015.8) rotate(-90)" font-size="17.0" xml:space="preserve">Normalized<tspan dx="-1.2"> R</tspan><tspan font-size="11.5" dy="4">2</tspan><tspan font-size="10" dy="-10" dx="0.3">*</tspan><tspan dy="6" dx="-1.2"> s</tspan><tspan font-size="11.5" dy="-6.5" dx="-0.6">-1</tspan></text>
<line x1="756" y1="124.5" x2="772.6" y2="124.5" stroke="#ff0000" stroke-width="2.3"/>
<line x1="756" y1="141" x2="772.6" y2="141" stroke="#111" stroke-width="2.3"/>
<text x="780.8" y="128.8" font-size="11.9">Left</text>
<text x="779.6" y="145.4" font-size="11.9">Supine</text>
</svg>
</body></html>
